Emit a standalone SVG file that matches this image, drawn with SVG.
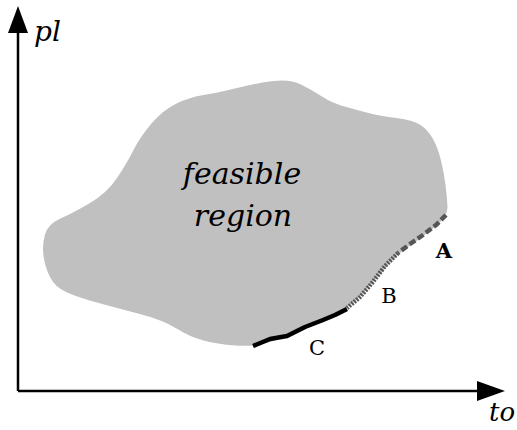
<svg xmlns="http://www.w3.org/2000/svg" width="517" height="430" viewBox="0 0 517 430">
<style>
.lbl{font-family:"DejaVu Serif","Liberation Serif",serif;fill:#000}
.it{font-style:italic}
.axis{stroke:#000;stroke-width:2.5;fill:none}
.head{fill:#000}
</style>
<rect width="517" height="430" fill="#fff"/>
<g id="region">
<path fill="#c0c0c0" d="M45,234.5 Q48,224 60.5,218.5 Q73,213 90,203 Q107,193 117,178 Q127,163 133.5,150 Q140,137 151.5,123.5 Q163,110 176.5,103.5 Q190,97 203.5,95 Q217,93 237,88 Q257,83 273.5,81 Q290,79 301,84.5 Q312,90 322,96.5 Q332,103 344.5,106.5 Q357,110 368.5,113 Q380,116 396.5,118 Q413,120 420.5,125 Q428,130 433,139 Q438,148 441,160.5 Q444,173 445.5,185 Q447,197 447.5,206.5 Q448,216 435.5,226.5 Q423,237 411.5,244.5 Q400,252 391.5,261 Q383,270 371.5,283.5 Q360,297 353.5,302.5 Q347,308 335,314 Q323,320 305,328.5 Q287,337 270,342 Q253,347 235,345.5 Q217,344 203.5,340.5 Q190,337 176.5,328.5 Q163,320 138,313.5 Q113,307 95,302 Q77,297 66,292 Q55,287 50,277 Q45,267 43.5,256 Q42,245 45,234.5 Z"/>
<text class="lbl it" x="242" y="184" font-size="30" text-anchor="middle">feasible</text>
<text class="lbl it" x="243" y="226" font-size="30" text-anchor="middle">region</text>
</g>
<g id="connectors">
<polyline class="axis" points="18,391 18,30"/>
<polygon class="head" points="18,6 8,33 28,33"/>
<polyline class="axis" points="18,391 480,391"/>
<polygon class="head" points="505,391 477,381 477,401"/>
</g>
<g id="frontA">
<polyline points="446,215 436,225 423,235 410,244 398,253" fill="none" stroke="#555" stroke-width="4.5" stroke-dasharray="7,3"/>
<text class="lbl" x="444" y="258" font-size="21" font-weight="bold" text-anchor="middle">A</text>
</g>
<g id="frontB">
<polyline points="398,253 385,266 372,283 360,297 347,308" fill="none" stroke="#555" stroke-width="4.5" stroke-dasharray="2,1.2"/>
<text class="lbl" x="389" y="303" font-size="21" text-anchor="middle">B</text>
</g>
<g id="frontC">
<polyline points="347,309 335,315 323,320 305,327 287,336 270,339 253,346" fill="none" stroke="#000" stroke-width="4.5" stroke-linejoin="round"/>
<text class="lbl" x="317" y="355" font-size="21" text-anchor="middle">C</text>
</g>
<g id="axislabels">
<text class="lbl it" x="34" y="41" font-size="28">pl</text>
<text class="lbl it" x="489" y="421" font-size="26">to</text>
</g>
</svg>
